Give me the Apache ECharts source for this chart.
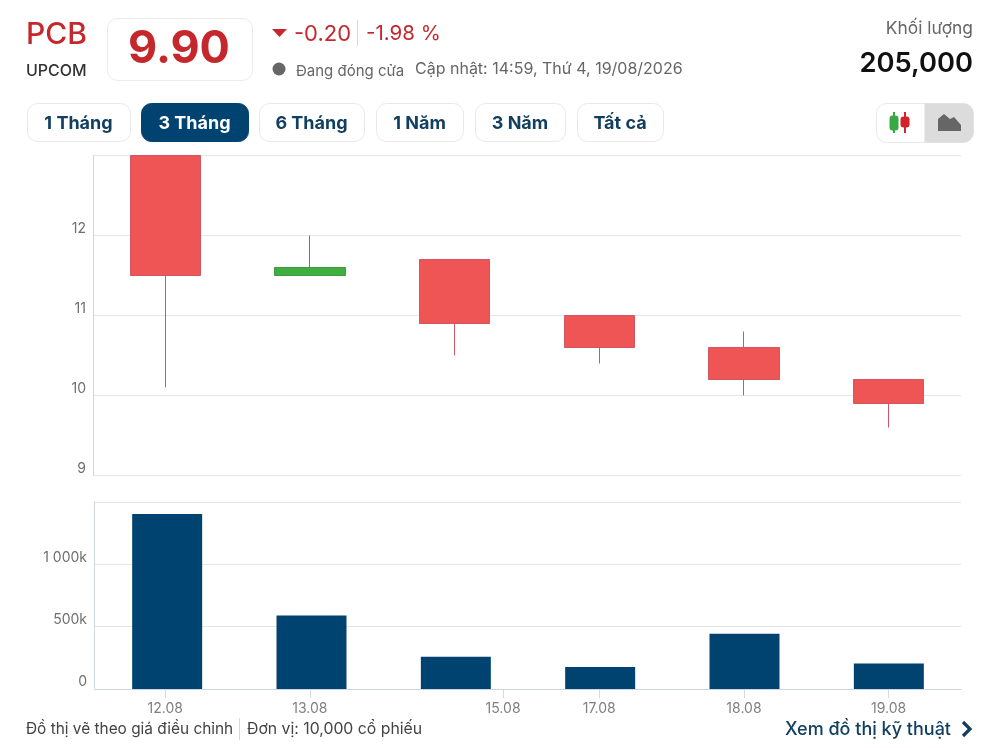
<!DOCTYPE html>
<html><head><meta charset="utf-8">
<style>html,body{margin:0;padding:0;background:#fff}#c{width:1000px;height:748px}</style>
<script src="https://cdn.jsdelivr.net/npm/echarts@6/dist/echarts.min.js"></script>
</head><body><div id="c"></div>
<script>
const categories = ['12.08','13.08','15.08','17.08','18.08','19.08'];
const opens  = [13.0, 11.5, 11.7, 11.0, 10.6, 10.2];
const closes = [11.5, 11.6, 10.9, 10.6, 10.2, 9.9];
const lows   = [10.1, 11.5, 10.5, 10.4, 10.0, 9.6];
const highs  = [13.0, 12.0, 11.7, 11.0, 10.8, 10.2];
const volumes = [1403000, 590000, 258000, 177000, 443000, 205000];
const tickPositions = [0, 1, 2.335, 3, 4, 5];
const rangeButtons = ['1 Tháng','3 Tháng','6 Tháng','1 Năm','3 Năm','Tất cả'];
const buttonEdges = [[27,130],[141,248],[259,364],[376,463],[475,565],[577,663]];

const FONT = 'Inter, "Noto Sans", sans-serif';
const RED = '#c5282c', NAVY = '#004370', INK = '#123f60';
const txt = (x, y, text, size, fill, weight, align) => ({
  type: 'text', x, y, silent: true,
  style: { text, font: `${weight || 400} ${size}px ${FONT}`, fill, align: align || 'left', verticalAlign: 'middle' }
});
const box = (x1, y1, x2, y2, r, fill, stroke) => ({
  type: 'rect', silent: true,
  shape: { x: x1 + .5, y: y1 + .5, width: x2 - x1, height: y2 - y1, r },
  style: { fill, stroke: stroke || null, lineWidth: 1 }
});
const vline = (x, y1, y2) => ({ type: 'line', silent: true, shape: { x1: x + .5, y1, x2: x + .5, y2 }, style: { stroke: '#d8d8d8', lineWidth: 1 } });

const graphics = [
  txt(26, 35, 'PCB', 30, RED, 500),
  txt(26, 71, 'UPCOM', 16, '#333', 500),
  box(107, 18, 252, 80, 10, '#fff', '#ececec'),
  txt(179, 49, '9.90', 45, RED, 700, 'center'),
  { type: 'polygon', silent: true, shape: { points: [[272, 29], [287, 29], [279.5, 37]] }, style: { fill: RED } },
  txt(294, 34, '-0.20', 22, RED, 400),
  vline(357, 20, 46),
  txt(366, 34, '-1.98 %', 20.5, RED, 400),
  { type: 'circle', silent: true, shape: { cx: 279, cy: 69, r: 6.5 }, style: { fill: '#666' } },
  txt(296, 71, 'Đang đóng cửa', 15, '#666', 400),
  txt(415, 69, 'Cập nhật: 14:59, Thứ 4, 19/08/2026', 16, '#666', 400),
  txt(973, 29, 'Khối lượng', 17.4, '#666', 400, 'right'),
  txt(973, 64, '205,000', 27.3, '#111', 600, 'right'),

  box(876, 103, 973, 142, 10, '#fff', '#e8e8e8'),
  box(924, 103, 973, 142, [0, 10, 10, 0], '#dcdcdc'),
  { type: 'line', silent: true, shape: { x1: 894, y1: 112, x2: 894, y2: 133 }, style: { stroke: '#3aa845', lineWidth: 2 } },
  box(889, 115, 898, 130, 3, '#3aa845'),
  { type: 'line', silent: true, shape: { x1: 905, y1: 112, x2: 905, y2: 133 }, style: { stroke: '#d3232a', lineWidth: 2 } },
  box(900, 116, 909, 127, 3, '#d3232a'),
  { type: 'polygon', silent: true, shape: { points: [[938, 131], [938, 119], [944, 114], [950, 119], [954, 117], [961, 125], [961, 131]] }, style: { fill: '#666' } },

  txt(26, 729, 'Đồ thị vẽ theo giá điều chỉnh', 15.4, '#444', 400),
  vline(239, 718, 740),
  txt(247, 729, 'Đơn vị: 10,000 cổ phiếu', 15.8, '#444', 400),
  txt(785, 730, 'Xem đồ thị kỹ thuật', 18, INK, 500),
  { type: 'polyline', silent: true, shape: { points: [[963, 722], [970, 729], [963, 736]] }, style: { stroke: INK, lineWidth: 3.2, fill: null } }
];
rangeButtons.forEach((label, i) => {
  const [a, b] = buttonEdges[i], on = i === 1;
  graphics.push(box(a, 103, b, 141, 10, on ? NAVY : '#fff', on ? NAVY : '#e8e8e8'));
  graphics.push(txt((a + b) / 2, 124, label, 18, on ? '#fff' : INK, 700, 'center'));
});

const labelStyle = { color: '#6f6f6f', fontSize: 14, fontFamily: FONT, verticalAlign: 'bottom', margin: 7, showMaxLabel: false };
const gridLine = { show: true, lineStyle: { color: '#e4e7ea', width: 1 } };
const yLine = { show: true, onZero: false, lineStyle: { color: '#cfd6dd', width: 1 } };

const chart = echarts.init(document.getElementById('c'), null, { renderer: 'canvas' });
chart.setOption({
  animation: false,
  backgroundColor: '#fff',
  graphic: { elements: graphics },
  grid: [
    { left: 93, right: 39, top: 155.5, height: 320 },
    { left: 95, right: 39, top: 502, height: 187 }
  ],
  xAxis: [
    { type: 'category', gridIndex: 0, data: categories, boundaryGap: true,
      axisLine: { show: true, lineStyle: { color: '#e4e7ea' } }, axisTick: { show: false }, axisLabel: { show: false } },
    { type: 'category', gridIndex: 1, data: categories, boundaryGap: true, show: false },
    { type: 'value', gridIndex: 1, min: -0.485, max: 5.5, position: 'bottom', splitLine: { show: false },
      axisLine: { show: true, onZero: false, lineStyle: { color: '#cbd6e2' } },
      axisTick: { show: true, customValues: tickPositions, length: 9, lineStyle: { color: '#d5d9de' } },
      axisLabel: { show: true, customValues: tickPositions, color: '#808080', fontSize: 14, fontFamily: FONT, margin: 13,
        formatter: v => categories[tickPositions.indexOf(v)] || '' } }
  ],
  yAxis: [
    { type: 'value', gridIndex: 0, min: 9, max: 13, interval: 1, axisLine: yLine, axisTick: { show: false },
      splitLine: gridLine, axisLabel: labelStyle },
    { type: 'value', gridIndex: 1, min: 0, max: 1500000, interval: 500000, offset: 1, axisLine: yLine, axisTick: { show: false },
      splitLine: gridLine,
      axisLabel: Object.assign({}, labelStyle, { formatter: v => {
        if (v === 0) return '0';
        const k = v / 1000;
        return k >= 1000 ? Math.floor(k / 1000) + ' ' + String(k % 1000).padStart(3, '0') + 'k' : k + 'k';
      } }) }
  ],
  series: [
    { type: 'candlestick', xAxisIndex: 0, yAxisIndex: 0, barWidth: 71,
      data: categories.map((_, i) => [opens[i], closes[i], lows[i], highs[i]]),
      itemStyle: { color: '#3fae3f', color0: '#f05555', borderColor: '#3f9a42', borderColor0: '#cf5663', borderWidth: 1 } },
    { type: 'bar', xAxisIndex: 1, yAxisIndex: 1, barWidth: 70, data: volumes, itemStyle: { color: NAVY } }
  ]
});
</script></body></html>
